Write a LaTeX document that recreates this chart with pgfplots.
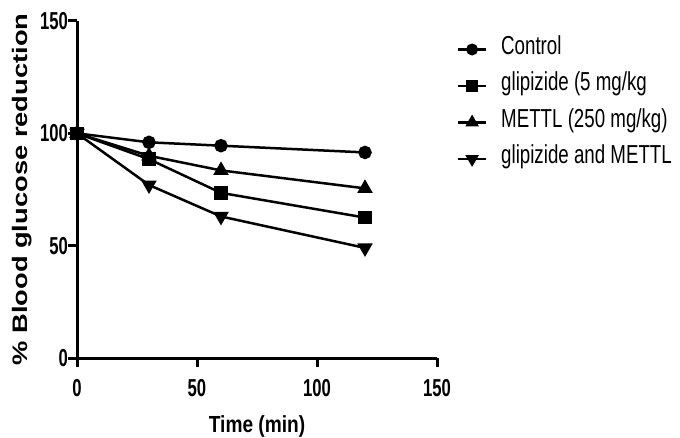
\documentclass[border=0pt]{standalone}
\usepackage{fontspec}
\setmainfont{Liberation Sans}
\newfontfamily\ticknarrow[FakeStretch=0.68]{Liberation Sans}
\newfontfamily\legnarrow[FakeStretch=0.72]{Liberation Sans}
\newfontfamily\labnarrow[FakeStretch=0.82]{Liberation Sans}
\newfontfamily\widefont[FakeStretch=1.3]{Liberation Sans}
\usepackage{pgfplots}
\pgfplotsset{compat=1.18}
\begin{document}
\begin{tikzpicture}
\useasboundingbox (0,0) rectangle (680pt,437pt);
\begin{axis}[
  at={(77pt,79pt)}, anchor=south west,
  width=360pt, height=337pt, scale only axis,
  xmin=0, xmax=150, ymin=0, ymax=150,
  axis lines=left,
  axis line style={-, line width=3pt, black},
  xtick={0,50,100,150}, ytick={0,50,100,150},
  tick align=outside,
  major tick length=9pt,
  tick style={line width=3pt, black},
  /pgf/number format/assume math mode=true,
  ticklabel style={font=\ticknarrow\bfseries\fontsize{24.5}{24.5}\selectfont},
  xticklabel style={anchor=base, inner sep=0pt, yshift=-29pt},
  yticklabel style={anchor=east, inner sep=0pt, xshift=0pt},
  xlabel={Time (min)},
  xlabel style={font=\labnarrow\bfseries\fontsize{23.3}{23.3}\selectfont, at={(axis description cs:0.5,-0.2196)}, anchor=base, inner sep=0pt},
  ylabel={\% Blood glucose reduction},
  ylabel style={font=\widefont\bfseries\fontsize{21}{21}\selectfont, at={(axis description cs:-0.153,0.5)}, anchor=center, inner sep=0pt},
  clip=false,
  legend cell align=left,
  legend style={draw=none, fill=none, at={(axis description cs:1.055,0.9435)}, anchor=north west,
    font=\legnarrow\fontsize{26}{26}\selectfont,
    inner sep=0pt, row sep=18pt,
    nodes={inner sep=0pt, text height=14pt, text depth=4.5pt},
    /tikz/every odd column/.append style={column sep=14pt}},
  legend image code/.code={\draw[mark repeat=2,mark phase=2,#1,line width=2.2pt,every mark/.append style={scale=0.88}] plot coordinates {(0pt,0pt) (14pt,0pt) (28pt,0pt)};},
  every axis plot/.append style={line width=2.5pt, black},
]
\addplot[mark=*, mark size=5.5pt] coordinates {(0,100) (30,96) (60,94.5) (120,91.5)};
\addlegendentry{Control}
\addplot[mark=square*, mark size=5.5pt] coordinates {(0,100) (30,88.5) (60,73.5) (120,62.5)};
\addlegendentry{glipizide (5 mg/kg}
\addplot[mark=triangle*, mark size=6.5pt] coordinates {(0,100) (30,90) (60,83.5) (120,75.5)};
\addlegendentry{METTL (250 mg/kg)}
\addplot[mark=triangle*, mark size=6.5pt, mark options={rotate=180}] coordinates {(0,100) (30,77) (60,63) (120,49)};
\addlegendentry{glipizide and METTL}
\end{axis}
\end{tikzpicture}
\end{document}
